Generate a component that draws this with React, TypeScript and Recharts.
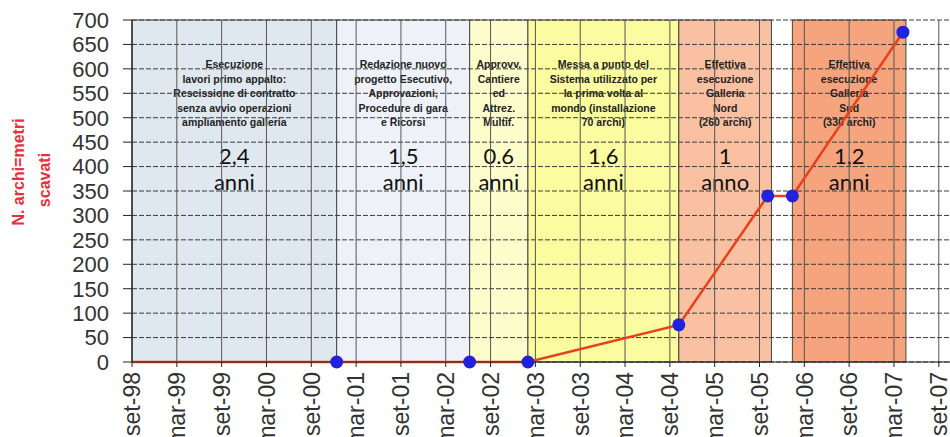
import React from "react";
import {
  ComposedChart,
  Line,
  XAxis,
  YAxis,
  ReferenceArea,
  ReferenceLine,
} from "recharts";

// x values are months counted from set-98
const tickMonths = [0, 6, 12, 18, 24, 30, 36, 42, 48, 54, 60, 66, 72, 78, 84, 90, 96, 102, 108];
const tickLabels = [
  "set-98", "mar-99", "set-99", "mar-00", "set-00", "mar-01", "set-01", "mar-02", "set-02",
  "mar-03", "set-03", "mar-04", "set-04", "mar-05", "set-05", "mar-06", "set-06", "mar-07", "set-07",
];
const yTicks = [0, 50, 100, 150, 200, 250, 300, 350, 400, 450, 500, 550, 600, 650, 700];

const pointMonths = [0, 27.4, 45.2, 53.0, 73.2, 85.1, 88.4, 103.2];
const archiScavati = [0, 0, 0, 0, 76, 340, 340, 675];

const phaseStart = [0, 27.4, 45.2, 53.0, 73.2, 88.4];
const phaseEnd = [27.4, 45.2, 53.0, 73.2, 85.6, 103.6];
const phaseNotes = [
  ["Esecuzione", "lavori primo appalto:", "Rescissione di contratto", "senza avvio operazioni", "ampliamento galleria"],
  ["Redazione nuovo", "progetto Esecutivo,", "Approvazioni,", "Procedure di gara", "e Ricorsi"],
  ["Approvv.", "Cantiere", "ed", "Attrez.", "Multif."],
  ["Messa a punto del", "Sistema utilizzato per", "la prima volta al", "mondo (installazione", "70 archi)"],
  ["Effettiva", "esecuzione", "Galleria", "Nord", "(260 archi)"],
  ["Effettiva", "esecuzione", "Galleria", "Sud", "(330 archi)"],
];
const phaseYears = ["2,4", "1,5", "0.6", "1,6", "1", "1,2"];
const phaseUnit = ["anni", "anni", "anni", "anni", "anno", "anni"];
const phaseColors = ["#e0e8ef", "#eef2f8", "#fdfdcc", "#fbfba0", "#f9c0a1", "#f6a47e"];

const data = pointMonths.map((m, i) => ({ m, v: archiScavati[i] }));

const MonthTick = (props: any) => {
  const { x, y, payload } = props;
  const idx = tickMonths.indexOf(payload.value);
  return (
    <g transform={`translate(${x},${y})`}>
      <text
        x={0}
        y={0}
        dy="0.36em"
        textAnchor="end"
        transform="rotate(-90)"
        fill="#333"
        fontSize={23}
        fontFamily="Liberation Sans, Arial, sans-serif"
      >
        {tickLabels[idx]}
      </text>
    </g>
  );
};

const renderDot = (p: any) => {
  if (p.index === 0) return <g key={`dot-${p.index}`} />;
  return <circle key={`dot-${p.index}`} cx={p.cx} cy={p.cy} r={6.5} fill="#2222dd" stroke="none" />;
};

const phaseLabel = (i: number) => (props: any) => {
  const vb = props.viewBox || {};
  const cx = vb.x + vb.width / 2;
  const top = vb.y;
  return (
    <g>
      {phaseNotes[i].map((line, k) => (
        <text
          key={k}
          x={cx}
          y={top + 48 + k * 14.6}
          textAnchor="middle"
          fontSize={10.5}
          fontWeight="bold"
          fill="#222"
          fontFamily="Liberation Sans, Arial, sans-serif"
        >
          {line}
        </text>
      ))}
      <text x={cx} y={top + 144} textAnchor="middle" fontSize={22} fill="#111" fontFamily="Lato, sans-serif">
        {phaseYears[i]}
      </text>
      <text x={cx} y={top + 170} textAnchor="middle" fontSize={22} fill="#111" fontFamily="Lato, sans-serif">
        {phaseUnit[i]}
      </text>
    </g>
  );
};

const yLabel = () => (
  <g fill="#e8303c" fontWeight="bold" fontSize={16} fontFamily="Liberation Sans, Arial, sans-serif">
    <text x={0} y={0} textAnchor="middle" transform="translate(24,172) rotate(-90)">
      N. archi=metri
    </text>
    <text x={0} y={0} textAnchor="middle" transform="translate(50,180) rotate(-90)">
      scavati
    </text>
  </g>
);

export default function App() {
  return (
    <div style={{ width: 950, height: 437 }}>
      <style>{"body{margin:0}"}</style>
      <ComposedChart width={950} height={437} data={data} margin={{ top: 20, right: 0, bottom: 0, left: 0 }}>
        {phaseStart.map((s, i) => (
          <ReferenceArea
            key={`a${i}`}
            x1={s}
            x2={phaseEnd[i]}
            y1={0}
            y2={700}
            fill={phaseColors[i]}
            fillOpacity={1}
            stroke="#444"
            strokeWidth={1}
          />
        ))}
        {yTicks.map((t) => (
          <ReferenceLine key={`h${t}`} y={t} stroke="#3a3a3a" strokeDasharray="5 2" />
        ))}
        {tickMonths.map((t) => (
          <ReferenceLine key={`v${t}`} x={t} stroke="#555" />
        ))}
        {phaseStart.map((s, i) => (
          <ReferenceArea
            key={`l${i}`}
            x1={s}
            x2={phaseEnd[i]}
            y1={0}
            y2={700}
            fill="none"
            fillOpacity={0}
            stroke="none"
            label={phaseLabel(i)}
          />
        ))}
        <XAxis
          dataKey="m"
          type="number"
          domain={[0, 109.5]}
          ticks={tickMonths}
          interval={0}
          height={75}
          tickSize={5}
          tickMargin={5}
          stroke="#222"
          tick={<MonthTick />}
        />
        <YAxis
          type="number"
          domain={[0, 700]}
          ticks={yTicks}
          interval={0}
          width={132}
          tickSize={9}
          tickMargin={14}
          stroke="#222"
          tick={{ fill: "#333", fontSize: 22, fontFamily: "Liberation Sans, Arial, sans-serif" }}
          label={yLabel}
        />
        <Line
          dataKey="v"
          stroke="#e8421c"
          strokeWidth={2.5}
          dot={renderDot}
          activeDot={false}
          isAnimationActive={false}
        />
      </ComposedChart>
    </div>
  );
}
